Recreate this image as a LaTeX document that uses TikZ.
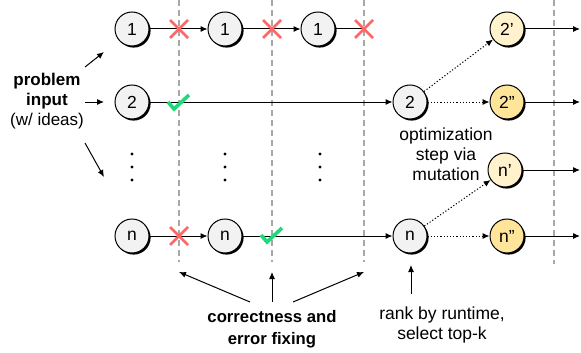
\documentclass[tikz,border=0pt]{standalone}
\usepackage{fontspec}
\setmainfont{Liberation Sans}
\usetikzlibrary{arrows.meta,shadows}
\definecolor{nodegray}{HTML}{F2F2F2}
\definecolor{lightyel}{HTML}{FFF2CC}
\definecolor{deepyel}{HTML}{FFE599}
\definecolor{crossred}{HTML}{FF6666}
\definecolor{checkgreen}{HTML}{1FD97A}
\definecolor{sepgray}{HTML}{A8A8A8}
\begin{document}
\begin{tikzpicture}[x=1pt,y=-1pt,
  font=\fontsize{17.5}{20}\selectfont,
  stagenode/.style={circle,draw=black,line width=1pt,minimum size=34pt,inner sep=0pt,
    fill=nodegray,drop shadow={shadow xshift=1.6pt,shadow yshift=-1.6pt,fill=black,opacity=1}},
  lightnode/.style={stagenode,fill=lightyel},
  deepnode/.style={stagenode,fill=deepyel},
  flow/.style={line width=1pt,-{Latex[length=7pt,width=6pt]}},
  plainflow/.style={line width=1pt},
  mutflow/.style={line width=1pt,dash pattern=on 1.2pt off 2pt,-{Latex[length=7pt,width=6pt]}},
  pointer/.style={line width=1pt,-{Latex[length=7pt,width=6pt]}},
  sepline/.style={sepgray,line width=2pt,dash pattern=on 6pt off 4pt},
  dotmark/.style={fill=black,circle,inner sep=0pt,minimum size=3.2pt},
  xmark/.pic={\draw[crossred,line width=2.8pt] (-9,-9) -- (9,9) (-9,9) -- (9,-9);},
  vmark/.pic={\draw[checkgreen,line width=3.6pt] (-6,1) -- (0,8) -- (15,-6);}
]
\useasboundingbox (0,0) rectangle (581,353);

% separators
\draw[sepline] (179,0) -- (179,262);
\draw[sepline] (272,0) -- (272,262);
\draw[sepline] (364,0) -- (364,262);
\draw[sepline] (554,0) -- (554,264);

% nodes
\node[stagenode] (r1a) at (132,29) {1};
\node[stagenode] (r1b) at (225,29) {1};
\node[stagenode] (r1c) at (318,29) {1};
\node[stagenode] (r2a) at (132,102) {2};
\node[stagenode] (r2b) at (410,102) {2};
\node[stagenode] (rna) at (132,236) {n};
\node[stagenode] (rnb) at (225,236) {n};
\node[stagenode] (rnc) at (410,236) {n};
\node[lightnode] (y2p) at (507,29) {2’};
\node[deepnode] (y2pp) at (507,102) {2”};
\node[lightnode] (ynp) at (505,170) {n’};
\node[deepnode] (ynpp) at (507,236) {n”};

% ellipsis dots
\foreach \xx in {132,225,320} {
  \node[dotmark] (d1\xx) at (\xx,154) {};
  \node[dotmark] (d2\xx) at (\xx,167) {};
  \node[dotmark] (d3\xx) at (\xx,180) {};
}

% row connectors
\coordinate (end1) at (364,29);
\draw[flow] (r1a) -- (r1b);
\draw[flow] (r1b) -- (r1c);
\draw[plainflow] (r1c) -- (end1);
\draw[flow] (r2a) -- (r2b);
\draw[flow] (rna) -- (rnb);
\draw[flow] (rnb) -- (rnc);

% mutation
\draw[mutflow] (r2b) -- (y2p);
\draw[mutflow] (r2b) -- (y2pp);
\draw[mutflow] (rnc) -- (ynp);
\draw[mutflow] (rnc) -- (ynpp);

% outgoing
\coordinate (o1) at (580,29);
\coordinate (o2) at (580,102);
\coordinate (o3) at (580,170);
\coordinate (o4) at (580,236);
\draw[flow] (y2p) -- (o1);
\draw[flow] (y2pp) -- (o2);
\draw[flow] (ynp) -- (o3);
\draw[flow] (ynpp) -- (o4);

% marks
\pic at (179,29) {xmark};
\pic at (272,29) {xmark};
\pic at (364,29) {xmark};
\pic at (179,236) {xmark};
\pic at (174,101) {vmark};
\pic at (267,234) {vmark};

% input text
\node[align=center,font=\fontsize{17}{20}\selectfont] (inp) at (47,101) {\textbf{problem}\\\textbf{input}\\(w/ ideas)};
\coordinate (i1s) at (85,67);  \coordinate (i1e) at (104,52);
\coordinate (i2s) at (85,102); \coordinate (i2e) at (104,102);
\coordinate (i3s) at (85,143); \coordinate (i3e) at (104,177);
\draw[pointer] (i1s) -- (i1e);
\draw[pointer] (i2s) -- (i2e);
\draw[pointer] (i3s) -- (i3e);

% mutation label
\node[align=center] (mutlab) at (446,154) {optimization\\step via\\mutation};

% correctness label
\node[align=center,font=\fontsize{16.7}{21.5}\selectfont\bfseries] (corr) at (272,329) {correctness and\\error fixing};
\coordinate (c1s) at (250,302); \coordinate (c1e) at (179,272);
\coordinate (c2s) at (272,302); \coordinate (c2e) at (272,272);
\coordinate (c3s) at (293,302); \coordinate (c3e) at (364,272);
\draw[pointer] (c1s) -- (c1e);
\draw[pointer] (c2s) -- (c2e);
\draw[pointer] (c3s) -- (c3e);

% rank label
\node[align=center] (rank) at (442,325) {rank by runtime,\\select top-k};
\coordinate (rks) at (411,294); \coordinate (rke) at (411,265);
\draw[pointer] (rks) -- (rke);
\end{tikzpicture}
\end{document}
